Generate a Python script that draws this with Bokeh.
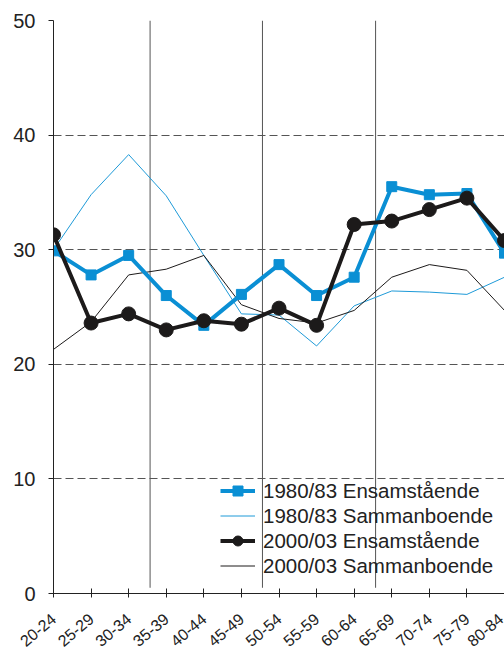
import math
from bokeh.plotting import figure
from bokeh.models import FixedTicker, Range1d, Legend, LegendItem
from bokeh.embed import file_html
from bokeh.resources import INLINE

age_groups = ["20-24", "25-29", "30-34", "35-39", "40-44", "45-49", "50-54",
              "55-59", "60-64", "65-69", "70-74", "75-79", "80-84"]
ens_1980 = [29.9, 27.8, 29.5, 26.0, 23.4, 26.1, 28.7, 26.0, 27.6, 35.5, 34.8, 34.9, 29.7]
sam_1980 = [30.0, 34.8, 38.3, 34.7, 29.5, 24.4, 24.3, 21.6, 25.1, 26.4, 26.3, 26.1, 27.6]
ens_2000 = [31.3, 23.6, 24.4, 23.0, 23.8, 23.5, 24.9, 23.4, 32.2, 32.5, 33.5, 34.5, 30.8]
sam_2000 = [21.3, 23.7, 27.8, 28.3, 29.5, 25.2, 24.0, 23.6, 24.7, 27.6, 28.7, 28.2, 24.7]
y_ticks = [0, 10, 20, 30, 40, 50]
separators = [2.57, 5.56, 8.57]

xs = list(range(len(age_groups)))
BLUE = "#0a8fd4"
BLUE_THIN = "#1e9ad8"
BLACK = "#1c1a1a"
FONT = "Liberation Sans"

p = figure(width=504, height=655, x_range=Range1d(0, 12.0), y_range=Range1d(0, 50),
           output_backend="svg", toolbar_location=None,
           min_border_left=53, min_border_right=0, min_border_top=20, min_border_bottom=62)
p.outline_line_color = None
p.background_fill_color = "white"

# separators
p.segment(x0=separators, x1=separators, y0=[0.5] * 3, y1=[50] * 3,
          line_color="#555555", line_width=1)

p.xgrid.visible = False
p.ygrid.ticker = FixedTicker(ticks=y_ticks)
p.ygrid.grid_line_color = "#555555"
p.ygrid.grid_line_dash = "8 4"
p.ygrid.grid_line_width = 1

r_sam80 = p.line(xs, sam_1980, line_color=BLUE_THIN, line_width=1)
r_sam00 = p.line(xs, sam_2000, line_color=BLACK, line_width=1)
r_ens80_l = p.line(xs, ens_1980, line_color=BLUE, line_width=4)
r_ens80_m = p.scatter(xs, ens_1980, marker="square", size=10, fill_color=BLUE, line_color=BLUE)
r_ens00_l = p.line(xs, ens_2000, line_color=BLACK, line_width=4)
r_ens00_m = p.scatter(xs, ens_2000, marker="circle", size=14, fill_color=BLACK, line_color=BLACK)

# axes
ya = p.yaxis[0]
ya.ticker = FixedTicker(ticks=y_ticks)
ya.axis_line_color = "#222222"
ya.major_tick_line_color = "#222222"
ya.major_tick_out = 5
ya.major_tick_in = 0
ya.minor_tick_line_color = None
ya.major_label_standoff = 13
ya.major_label_text_font = FONT
ya.major_label_text_font_size = "20px"
ya.major_label_text_color = "#222222"

xa = p.xaxis[0]
xa.ticker = FixedTicker(ticks=xs)
xa.major_label_overrides = {i: g for i, g in enumerate(age_groups)}
xa.axis_line_color = "#222222"
xa.major_tick_line_color = "#222222"
xa.major_tick_out = 4
xa.major_tick_in = 5
xa.minor_tick_line_color = None
xa.major_label_standoff = 19
xa.major_label_orientation = 0.70
xa.major_label_text_font = FONT
xa.major_label_text_font_size = "16px"
xa.major_label_text_color = "#222222"

legend = Legend(items=[
    LegendItem(label="1980/83 Ensamstående", renderers=[r_ens80_l, r_ens80_m]),
    LegendItem(label="1980/83 Sammanboende", renderers=[r_sam80]),
    LegendItem(label="2000/03 Ensamstående", renderers=[r_ens00_l, r_ens00_m]),
    LegendItem(label="2000/03 Sammanboende", renderers=[r_sam00]),
], location=(167, 15))
legend.label_text_font = FONT
legend.label_text_font_size = "20.5px"
legend.label_text_color = "#222222"
legend.glyph_width = 35
legend.glyph_height = 25
legend.label_height = 25
legend.label_standoff = 8
legend.spacing = 0
legend.padding = 0
legend.margin = 0
legend.border_line_color = None
legend.background_fill_alpha = 0
p.add_layout(legend, "center")

open("out.html", "w").write(file_html(p, INLINE))
